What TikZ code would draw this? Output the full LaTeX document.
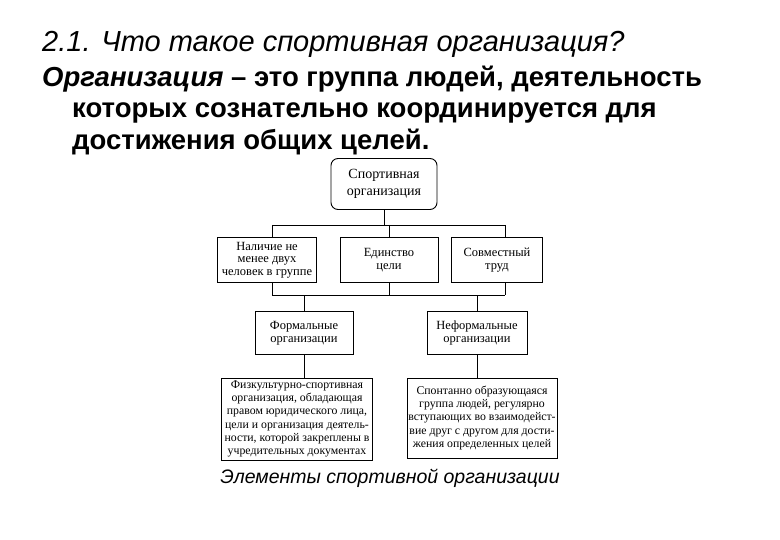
\documentclass[tikz,border=0pt]{standalone}
\usepackage{fontspec}
\setmainfont{Liberation Serif}
\newfontfamily\arial{Liberation Sans}
\begin{document}
\begin{tikzpicture}[x=1pt,y=-1pt,
 bx/.style={draw,line width=0.9pt,align=center,font=\fontsize{12.5}{12.5}\selectfont,inner sep=1pt},
 ln/.style={line width=0.6pt},
 tt/.style={anchor=base west,inner sep=0,font=\arial\fontsize{27.5}{27.5}\selectfont}]
\useasboundingbox (0,0) rectangle (780,540);
\node[tt,font=\arial\fontsize{29}{29}\selectfont] (t1) at (42,52) {\itshape 2.1. Что такое спортивная организация?};
\node[tt] (t2) at (42,87) {\bfseries\itshape Организация\upshape{} – это группа людей, деятельность};
\node[tt] (t3) at (72,118) {\bfseries которых сознательно координируется для};
\node[tt] (t4) at (72,150) {\bfseries достижения общих целей.};
\node[bx,rounded corners=7pt,minimum width=106pt,minimum height=51pt,font=\fontsize{14}{17}\selectfont] (top) at (384,184) {Спортивная\\организация};
\node[bx,minimum width=99pt,minimum height=45pt] (a) at (267,260) {Наличие не\\менее двух\\человек в группе};
\node[bx,minimum width=98pt,minimum height=45pt] (b) at (389,260) {Единство\\цели};
\node[bx,minimum width=91pt,minimum height=45pt] (c) at (497,260) {Совместный\\труд};
\node[bx,minimum width=98pt,minimum height=43pt] (f) at (304,333) {Формальные\\организации};
\node[bx,minimum width=100pt,minimum height=43pt] (n) at (477,333) {Неформальные\\организации};
\node[bx,minimum width=151pt,minimum height=82pt,font=\fontsize{11.8}{13.2}\selectfont] (fd) at (297,419) {Физкультурно-спортивная\\организация, обладающая\\правом юридического лица,\\цели и организация деятель-\\ности, которой закреплены в\\учредительных документах};
\node[bx,minimum width=150pt,minimum height=80pt,font=\fontsize{11.8}{13.2}\selectfont] (nd) at (482,418) {Спонтанно образующаяся\\группа людей, регулярно\\вступающих во взаимодейст-\\вие друг с другом для дости-\\жения определенных целей};
\node[font=\arial\itshape\fontsize{19.5}{19.5}\selectfont,inner sep=0] (cap) at (390,478) {Элементы спортивной организации};
\coordinate (j1) at (384,225);
\coordinate (j2) at (272,225);
\coordinate (j3) at (505,225);
\coordinate (k1) at (272,295);
\coordinate (k2) at (505,295);
\draw[ln] (top) -- (j1) (j2) -- (j3);
\draw[ln] (j2) -- (j2 |- a.north) (j1 -| b) -- (b) (j3) -- (j3 |- c.north);
\draw[ln] (k1) -- (k2);
\draw[ln] (k1) -- (k1 |- a.south) (b.south) -- (b.south |- k1) (k2) -- (k2 |- c.south);
\draw[ln] (f.north) -- (f.north |- k1) (n.north) -- (n.north |- k1);
\draw[ln] (f.south) -- (fd.north -| f.south) (n.south) -- (nd.north -| n.south);
\end{tikzpicture}
\end{document}
